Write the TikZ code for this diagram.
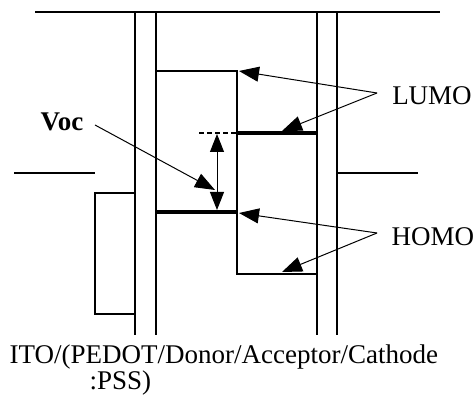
\documentclass[tikz,border=0pt]{standalone}
\usepackage{fontspec}
\setmainfont{Liberation Serif}
\usetikzlibrary{arrows.meta}
\begin{document}
\begin{tikzpicture}[x=1pt,y=-1pt,line width=1.2pt,
  lbl/.style={font=\fontsize{27}{31}\selectfont, inner sep=0pt},
  thickline/.style={line width=4.5pt},
  pointer/.style={-{Triangle[length=20pt,width=15pt]}, line width=1pt},
  dpointer/.style={{Triangle[length=18pt,width=14pt]}-{Triangle[length=18pt,width=14pt]}, line width=1pt}]
\useasboundingbox (0,0) rectangle (475,398);
% frame lines
\draw (35,12) -- (440,12);
\draw (135,12) -- (135,335);
\draw (156,12) -- (156,335);
\draw (317,12) -- (317,335);
\draw (337,12) -- (337,335);
\draw (14,173) -- (95,173);
\draw (337,173) -- (418,173);
\draw (135,193) -- (95,193) -- (95,314) -- (135,314);
% donor / acceptor
\draw (156,71) -- (237,71) -- (237,274) -- (317,274);
\draw[thickline] (156,212) -- (237,212);
\draw[thickline] (237,133) -- (317,133);
\draw[dash pattern=on 5pt off 3pt] (199,133) -- (237,133);
% Voc
\coordinate (vtop) at (217,134);
\coordinate (vbot) at (217,210);
\draw[dpointer] (vbot) -- (vtop);
\node[lbl, font=\fontsize{27}{31}\selectfont\bfseries] (voc) at (62,122) {Voc};
\coordinate (vocs) at (95,125);
\coordinate (voce) at (215,190);
\draw[pointer] (vocs) -- (voce);
% LUMO
\node[lbl] (lumo) at (432,96) {LUMO};
\coordinate (ls) at (377,93);
\coordinate (l1) at (239,71);
\coordinate (l2) at (282,131);
\draw[pointer] (ls) -- (l1);
\draw[pointer] (ls) -- (l2);
% HOMO
\node[lbl] (homo) at (433,237) {HOMO};
\coordinate (hs) at (377,233);
\coordinate (h1) at (239,213);
\coordinate (h2) at (282,272);
\draw[pointer] (hs) -- (h1);
\draw[pointer] (hs) -- (h2);
% caption
\node[lbl, anchor=west] (cap1) at (9,357) {ITO/(PEDOT/Donor/Acceptor/Cathode};
\node[lbl, anchor=west] (cap2) at (89,383) {:PSS)};
\end{tikzpicture}
\end{document}
